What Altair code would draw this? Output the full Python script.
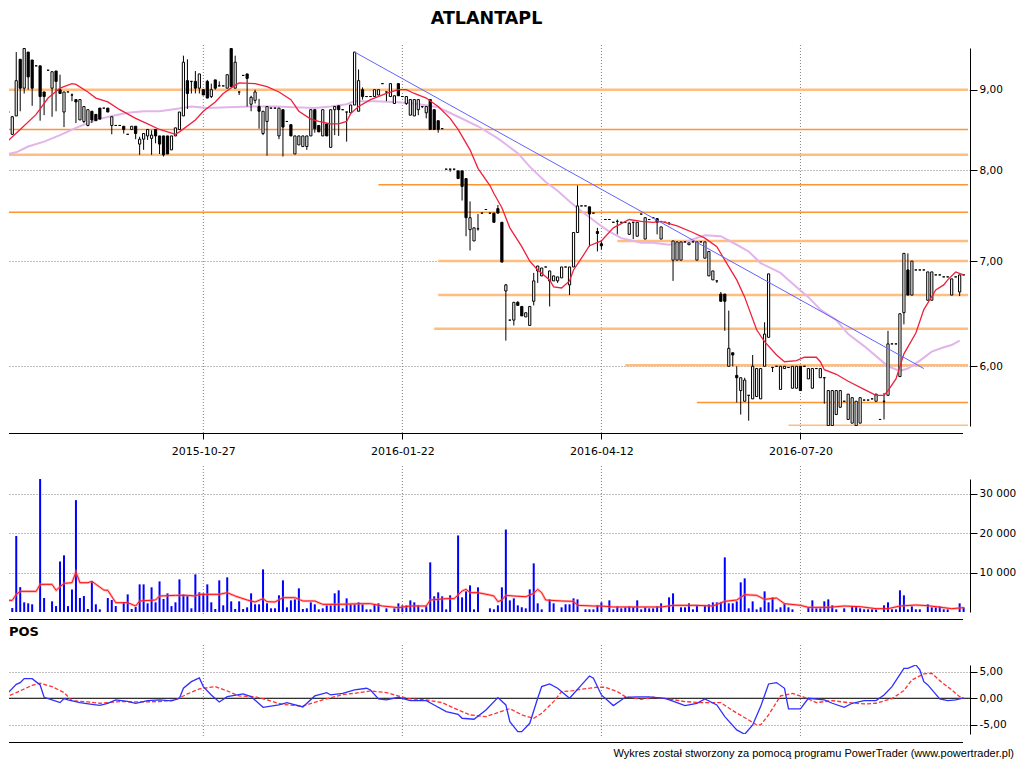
import altair as alt
import pandas as pd

# ---------------- data ----------------
opens = [
8.62,8.71,8.43,8.66,9.41,9.02,9.51,9.40,9.32,9.32,
8.97,9.26,9.02,9.25,9.00,8.71,8.97,8.93,8.87,8.61,
8.59,8.54,8.72,8.68,8.76,8.76,8.76,8.54,8.54,8.54,
8.53,8.43,8.49,8.53,8.31,8.37,8.41,8.38,8.49,8.41,
8.41,8.41,8.24,8.41,8.49,8.66,9.12,9.11,9.11,9.02,
9.00,9.11,8.91,9.13,9.05,9.05,9.02,9.56,9.02,8.97,
9.19,9.21,8.81,8.86,8.78,8.44,8.59,8.76,8.76,8.41,
8.74,8.59,8.55,8.19,8.30,8.28,8.28,8.41,8.74,8.54,
8.41,8.56,8.27,8.74,8.79,8.74,8.71,8.70,8.80,8.72,
9.00,8.91,8.91,8.91,8.93,9.08,8.97,8.91,8.82,9.08,
8.91,8.82,8.67,8.66,8.74,8.78,8.70,8.87,8.74,8.60,
8.50,8.01,8.01,8.01,7.99,7.99,7.90,7.33,7.21,7.34,
7.51,7.55,7.51,7.51,7.56,7.41,6.70,6.42,6.42,6.59,
6.55,6.45,6.37,6.60,6.90,6.85,6.94,6.80,6.80,6.80,
6.83,6.94,6.76,6.94,7.30,7.59,7.59,7.58,7.51,7.31,
7.18,7.44,7.44,7.41,7.42,7.41,7.41,7.28,7.41,7.26,
7.50,7.23,7.44,7.46,7.45,7.23,7.41,7.40,7.01,7.01,
7.01,7.20,7.17,7.20,7.01,7.20,7.03,6.85,6.81,6.80,
6.67,6.67,6.00,6.12,5.92,5.79,5.70,5.75,5.72,5.74,
5.72,6.00,6.26,5.99,6.00,5.80,5.98,5.99,5.81,5.81,
6.00,6.00,5.89,5.81,5.98,5.90,5.90,5.50,5.50,5.59,
5.65,5.70,5.55,5.52,5.50,5.52,5.71,5.71,5.72,5.70,
5.55,5.70,5.75,6.20,6.20,5.91,6.49,6.91,6.66,6.91,
6.91,6.91,6.61,6.61,6.86,6.86,6.84,6.84,6.66,6.84,
6.69,6.86]
highs = [
8.63,8.71,8.66,9.51,9.41,9.56,9.51,9.40,9.32,9.32,
8.97,9.26,9.24,9.25,9.20,8.97,8.97,8.95,8.87,8.87,
8.78,8.74,8.72,8.68,8.76,8.76,8.76,8.65,8.54,8.54,
8.53,8.43,8.53,8.53,8.40,8.44,8.49,8.48,8.49,8.41,
8.41,8.41,8.41,8.51,8.71,9.46,9.41,9.11,9.25,9.21,
9.00,9.13,9.08,9.13,9.11,9.05,9.20,9.56,9.46,8.97,
9.19,9.21,8.92,9.00,8.88,8.72,8.78,8.76,8.76,8.76,
8.74,8.59,8.55,8.41,8.41,8.41,8.41,8.74,8.74,8.54,
8.74,8.56,8.74,8.78,8.79,8.74,8.71,8.80,9.51,9.27,
9.03,8.91,8.91,9.00,9.00,9.08,8.97,9.08,8.92,9.08,
8.91,8.91,8.87,8.87,8.87,8.78,8.78,8.87,8.74,8.60,
8.50,8.01,8.01,8.01,7.99,7.99,7.90,7.64,7.35,7.50,
7.51,7.55,7.51,7.51,7.60,7.41,6.77,6.42,6.59,6.60,
6.55,6.49,6.55,6.88,6.95,6.93,6.94,6.90,6.85,6.84,
6.94,6.94,6.94,7.30,7.82,7.59,7.59,7.58,7.51,7.35,
7.22,7.44,7.44,7.41,7.44,7.41,7.41,7.41,7.41,7.41,
7.50,7.46,7.44,7.46,7.45,7.36,7.41,7.41,7.21,7.20,
7.20,7.20,7.19,7.20,7.20,7.20,7.20,7.10,6.90,6.80,
6.69,6.67,6.51,6.12,6.00,5.90,5.90,5.75,6.10,5.98,
5.98,6.40,6.87,5.99,6.00,6.00,6.00,5.99,6.00,6.00,
6.00,6.00,5.98,5.98,5.98,5.98,5.90,5.79,5.79,5.79,
5.79,5.70,5.76,5.73,5.70,5.73,5.71,5.71,5.72,5.76,
5.55,5.77,6.32,6.20,6.20,6.48,7.08,7.08,7.00,6.91,
6.91,6.91,6.89,6.89,6.86,6.86,6.84,6.84,6.82,6.84,
6.86,6.86]
lows = [
8.38,8.71,8.43,8.66,8.72,8.95,9.00,8.79,9.32,8.60,
8.67,9.26,8.65,8.72,8.95,8.52,8.97,8.85,8.57,8.61,
8.57,8.53,8.57,8.60,8.62,8.76,8.71,8.43,8.54,8.54,
8.44,8.43,8.49,8.37,8.18,8.24,8.36,8.18,8.32,8.19,
8.16,8.19,8.24,8.41,8.49,8.66,8.75,8.95,8.95,8.95,
8.93,8.89,8.89,9.00,9.05,9.05,9.02,9.04,9.02,8.93,
9.19,8.78,8.72,8.82,8.50,8.42,8.17,8.76,8.76,8.37,
8.16,8.59,8.41,8.19,8.30,8.28,8.24,8.41,8.45,8.46,
8.41,8.41,8.27,8.42,8.41,8.74,8.34,8.70,8.80,8.72,
8.87,8.91,8.91,8.91,8.93,9.08,8.85,8.91,8.82,8.92,
8.91,8.80,8.67,8.66,8.67,8.76,8.63,8.49,8.49,8.45,
8.50,8.01,7.98,8.01,7.90,7.65,7.26,7.11,7.21,7.32,
7.51,7.55,7.51,7.41,7.51,6.99,6.23,6.42,6.37,6.56,
6.46,6.45,6.37,6.56,6.78,6.85,6.94,6.55,6.80,6.78,
6.83,6.94,6.66,6.94,7.30,7.59,7.59,7.15,7.51,7.10,
7.12,7.44,7.44,7.41,7.28,7.41,7.41,7.28,7.23,7.26,
7.50,7.23,7.44,7.46,7.28,7.23,7.41,7.38,6.80,7.01,
7.01,7.20,7.17,7.20,7.01,7.20,7.03,6.85,6.81,6.78,
6.60,6.32,6.00,6.00,5.69,5.59,5.70,5.54,5.72,5.74,
5.72,6.00,6.26,5.95,6.00,5.80,5.98,5.99,5.81,5.81,
5.79,6.00,5.89,5.81,5.98,5.90,5.68,5.50,5.49,5.59,
5.65,5.70,5.55,5.52,5.50,5.52,5.71,5.71,5.72,5.70,
5.55,5.55,5.75,6.20,6.20,5.91,6.38,6.66,6.66,6.91,
6.91,6.91,6.61,6.61,6.86,6.86,6.84,6.84,6.66,6.84,
6.65,6.86]
closes = [
8.40,8.71,8.65,9.12,9.02,9.56,9.17,9.02,9.32,8.91,
8.91,9.26,9.24,9.11,8.95,8.97,8.97,8.93,8.84,8.87,
8.78,8.74,8.61,8.60,8.62,8.76,8.71,8.65,8.54,8.54,
8.49,8.43,8.53,8.44,8.37,8.44,8.49,8.42,8.41,8.31,
8.18,8.19,8.41,8.51,8.71,9.37,8.95,9.11,9.02,9.21,
8.93,8.89,9.00,9.02,9.05,9.05,9.20,9.04,9.37,8.97,
9.19,9.15,8.90,8.97,8.72,8.72,8.78,8.76,8.76,8.76,
8.52,8.59,8.41,8.41,8.41,8.41,8.41,8.74,8.50,8.46,
8.74,8.41,8.74,8.78,8.74,8.74,8.71,8.80,9.51,9.12,
8.91,8.91,8.91,9.00,9.00,9.08,8.97,9.08,8.92,8.92,
8.91,8.91,8.87,8.87,8.87,8.78,8.78,8.49,8.49,8.49,
8.50,8.01,8.01,8.01,7.90,7.81,7.46,7.46,7.35,7.34,
7.51,7.55,7.51,7.41,7.51,6.99,6.76,6.42,6.59,6.56,
6.46,6.49,6.55,6.80,6.95,6.93,6.94,6.90,6.85,6.84,
6.94,6.94,6.94,7.30,7.59,7.59,7.59,7.50,7.51,7.29,
7.16,7.44,7.44,7.41,7.42,7.41,7.41,7.40,7.41,7.41,
7.50,7.46,7.44,7.46,7.41,7.36,7.41,7.40,7.21,7.20,
7.20,7.20,7.19,7.20,7.20,7.20,7.20,7.10,6.90,6.80,
6.60,6.60,6.16,6.10,5.90,5.90,5.88,5.75,6.00,5.98,
5.98,6.29,6.87,5.99,6.00,6.00,6.00,5.99,6.00,6.00,
5.79,6.00,5.98,5.98,5.98,5.98,5.90,5.79,5.79,5.79,
5.79,5.70,5.76,5.73,5.70,5.73,5.71,5.71,5.72,5.76,
5.55,5.70,6.20,6.20,6.20,6.48,7.08,6.66,7.00,6.91,
6.91,6.91,6.89,6.89,6.86,6.86,6.84,6.84,6.82,6.84,
6.86,6.86]
volumes = [
9100,0,1000,19250,6300,2450,2200,1950,0,34200,
3550,0,2700,1500,12800,14350,1500,5700,28350,3550,
4050,760,7750,1950,680,0,3550,3040,1500,0,
2530,4470,760,1270,7000,7000,2200,6250,2450,7750,
3300,4730,1500,2450,8270,4470,4050,930,9540,4980,
4730,7000,2450,760,8020,1690,8780,2700,760,2700,
760,1180,4730,1950,1950,10800,2200,930,930,4220,
8020,1180,2950,3200,6000,760,930,2450,1950,680,
930,1690,1690,4730,5490,930,3460,1950,1950,2450,
1950,680,680,1950,2200,0,930,0,930,2200,
1690,1690,2950,2450,1690,680,1500,12580,3970,4980,
3970,680,4220,0,19400,3710,5230,6750,680,6250,
0,0,930,680,1690,6250,20900,2950,3460,1690,
1180,930,5740,12320,2200,680,0,3200,2200,0,
1180,1950,1950,3460,3200,0,680,680,680,1690,
2450,0,2950,680,1430,930,1180,1430,1180,2950,
680,1180,930,930,1430,2200,0,3710,4730,0,
1180,1180,2200,680,1690,0,1690,1950,2450,2450,
2450,13840,2200,2200,2700,7510,8520,930,2700,680,
1180,5230,2450,3710,680,1180,2200,1180,680,0,
0,0,1180,2950,930,930,2700,3200,1690,680,
0,930,0,1430,1430,930,680,680,680,680,
0,1690,2450,680,680,5490,4220,680,1430,680,
680,0,1950,1180,1180,1430,680,680,0,0,
2200,1180]

ma_fast_idx = [0,4,8,11,14,17,18,21,23,26,29,33,36,39,43,44,48,50,53,55,58,59,63,66,69,72,74,77,79,82,
               84,86,87,89,92,96,99,101,103,106,109,112,114,117,119,122,123,125,127,130,132,134,137,138,140,
               142,143,145,147,150,153,157,160,163,165,169,173,176,179,181,184,186,189,191,194,196,199,201,
               204,205,206,209,212,216,219,221,222,224,226,229,231,234,236,237,239,241]
ma_fast_val = [8.31,8.49,8.68,8.89,9.02,9.08,9.07,8.97,8.89,8.84,8.74,8.63,8.56,8.49,8.43,8.46,8.61,8.72,8.84,8.95,
               9.06,9.09,9.08,9.04,8.97,8.87,8.72,8.62,8.59,8.56,8.56,8.59,8.69,8.78,8.87,8.95,9.00,9.00,8.95,8.89,
               8.78,8.63,8.49,8.24,8.02,7.82,7.73,7.57,7.35,7.15,7.00,6.91,6.81,6.74,6.73,6.80,6.91,7.03,7.16,7.21,
               7.35,7.44,7.42,7.41,7.42,7.37,7.30,7.24,7.15,7.01,6.81,6.64,6.33,6.22,6.10,6.04,6.05,6.08,6.08,6.04,
               5.97,5.93,5.87,5.80,5.75,5.75,5.79,5.89,6.11,6.30,6.52,6.71,6.76,6.81,6.89,6.86]
ma_slow_idx = [0,3,6,10,14,18,23,27,31,35,39,43,47,51,56,62,68,73,78,82,86,88,93,98,103,109,114,119,124,129,
               132,136,139,142,145,149,152,155,160,163,167,171,176,180,184,187,190,195,199,202,205,209,212,216,
               219,222,225,227,230,233,236,238,240]
ma_slow_val = [8.18,8.21,8.28,8.34,8.42,8.51,8.61,8.66,8.70,8.72,8.72,8.75,8.78,8.76,8.77,8.78,8.78,8.77,8.76,8.78,
               8.81,8.85,8.85,8.84,8.82,8.77,8.65,8.53,8.38,8.20,8.04,7.86,7.76,7.64,7.53,7.40,7.31,7.24,7.19,7.19,
               7.17,7.20,7.27,7.26,7.17,7.10,6.98,6.88,6.74,6.64,6.52,6.42,6.29,6.18,6.09,6.00,5.96,5.98,6.05,6.13,
               6.17,6.19,6.23]

trend_idx = [88, 231]
trend_val = [9.51, 5.98]

levels_dark = [8.49, 7.83, 7.52, 5.69]
levels_dark_start = [0, 94, 0, 174]
levels_light = [9.00, 8.18, 7.21, 7.00, 6.66, 6.34, 6.01, 5.50]
levels_light_start = [0, 0, 154, 109, 109, 108, 156, 197]
levels_end = 242.1

vma_idx = [0,2,3,4,8,9,12,13,15,17,18,19,21,22,25,26,28,31,33,34,38,39,43,46,48,49,54,56,58,61,
           63,65,66,68,70,73,75,78,80,84,90,92,95,99,102,106,107,111,113,115,116,117,119,122,123,124,125,126,
           128,131,133,134,135,136,140,143,144,148,150,153,162,165,168,174,178,181,184,186,189,191,194,196,
           200,202,207,211,215,219,222,225,229,232,236,238,241]
vma_val = [2950,2950,4470,5230,5230,7000,7000,5490,7260,7430,10130,7430,7430,7770,5570,5490,2360,2360,1520,2790,
           3040,4050,4220,4220,4050,4470,4470,4900,4050,3040,2530,3380,2620,2530,3630,3630,2790,2790,1940,1940,
           2110,2110,1520,1100,1520,1520,3040,3380,3380,5320,5740,4900,4900,4300,4050,2620,3040,4220,4050,3880,
           4730,5740,4900,3040,2790,2700,1690,1520,1520,1270,1270,1270,1690,1690,1520,2700,3040,4390,4220,3210,
           3550,2110,1690,1180,1180,1520,1350,840,840,1520,1770,1600,1100,840,1100]

pos_idx = [1,3,4,5,7,9,10,12,14,15,16,19,22,24,26,28,31,33,36,39,42,44,45,47,49,50,52,54,56,60,
           62,65,69,71,75,78,81,82,85,88,91,92,94,96,99,102,106,108,111,114,115,118,121,124,126,127,129,130,
           132,134,135,137,139,142,145,147,148,150,153,156,159,162,166,169,171,174,176,179,181,184,186,188,
           190,192,194,196,197,200,202,206,208,211,213,216,219,221,223,226,227,229,230,231,232,235,237,239,241]
pos_val = [1.07,2.64,2.96,3.71,3.71,2.52,0.19,-0.31,-0.82,-0.06,-0.31,-0.82,-1.13,-1.32,-0.94,-0.31,-0.57,-0.94,
           -0.44,-0.31,-0.50,0.0,1.89,3.14,3.84,2.20,0.63,-0.69,0.31,0.82,0.31,-1.70,-1.26,-0.82,-1.64,0.44,1.07,
           0.63,0.94,1.57,1.89,1.57,-0.13,-0.31,0.19,-0.44,-0.44,-1.26,-2.52,-3.02,-3.77,-3.96,-2.20,0.13,-1.26,
           -4.40,-6.29,-6.29,-4.72,0.0,2.20,2.70,1.89,0.0,2.52,4.21,3.77,0.63,-1.38,0.19,0.25,0.25,0.0,-0.82,
           -1.38,-0.94,-0.13,-1.26,-3.46,-5.97,-6.79,-5.03,-1.57,2.70,2.96,1.89,-2.01,-2.01,0.0,-0.31,-0.94,
           -1.70,-0.94,-0.44,-0.44,0.63,2.20,5.66,5.66,6.29,5.35,3.14,2.52,-0.13,-0.44,-0.31,0.06]
sig_idx = [0,3,7,9,12,15,17,21,24,29,34,39,43,46,49,53,56,59,63,66,70,75,80,85,88,92,96,99,102,106,
           110,114,117,121,124,127,130,133,135,138,140,143,145,149,151,154,156,160,163,167,171,175,180,183,
           187,189,190,192,195,198,201,204,208,212,216,219,223,226,228,231,233,235,238,240,241]
sig_val = [0.13,1.07,2.45,2.83,2.20,1.07,-0.44,-0.69,-0.94,-0.63,-0.69,-0.63,-0.31,0.82,1.76,2.20,1.38,0.44,0.31,
           -0.31,-1.19,-1.45,-0.31,0.69,0.94,1.38,1.07,0.44,-0.13,-0.31,-0.82,-2.20,-3.14,-3.46,-2.70,-1.95,-3.14,
           -3.77,-2.83,-0.63,1.26,1.45,1.70,2.08,2.08,1.26,0.31,-0.19,0.19,-0.13,-0.63,-0.82,-0.82,-2.33,-4.09,
           -5.03,-5.03,-3.14,0.44,0.94,0.19,-0.82,-0.44,-0.82,-1.07,-0.94,-0.06,1.45,3.46,4.59,4.72,3.33,1.57,
           0.31,-0.06]

tick_idx = [50, 100, 150, 200]
tick_labels = ["2015-10-27", "2016-01-22", "2016-04-12", "2016-07-20"]
price_ticks = [6, 7, 8, 9]
vol_ticks = [10000, 20000, 30000]
pos_ticks = [-5, 0, 5]
title_text = ["ATLANTAPL"]
pos_label = ["POS"]
footer_text = ["Wykres został stworzony za pomocą programu PowerTrader (www.powertrader.pl)"]

# ---------------- frames ----------------
N = len(opens)
candles = pd.DataFrame({"i": list(range(N)), "o": opens, "h": highs, "l": lows, "c": closes})
vol_df = pd.DataFrame({"i": list(range(N)), "v": volumes})
ma_fast_df = pd.DataFrame({"i": ma_fast_idx, "v": ma_fast_val})
ma_slow_df = pd.DataFrame({"i": ma_slow_idx, "v": ma_slow_val})
trend_df = pd.DataFrame({"i": trend_idx, "v": trend_val})
lev_dark_df = pd.DataFrame({"s": levels_dark_start, "e": [levels_end] * len(levels_dark), "v": levels_dark})
lev_light_df = pd.DataFrame({"s": levels_light_start, "e": [levels_end] * len(levels_light), "v": levels_light})
vma_df = pd.DataFrame({"i": vma_idx, "v": vma_val})
pos_df = pd.DataFrame({"i": pos_idx, "v": pos_val})
sig_df = pd.DataFrame({"i": sig_idx, "v": sig_val})
ticks_df = pd.DataFrame({"i": tick_idx})
zero_df = pd.DataFrame({"z": [0]})
one_df = pd.DataFrame({"a": [0]})

# ---------------- layout / style ----------------
W = 961
H_PRICE = 378
H_VOL = 133
H_POS = 69
FONT = "DejaVu Sans"
GRID = "#808080"

xs = alt.Scale(domain=[1.181, 242.6], nice=False, zero=False, padding=0)
ys_p = alt.Scale(type="log", domain=[5.497, 9.567], nice=False, padding=0)
ys_v = alt.Scale(domain=[0, 33700], nice=False, padding=0)
ys_o = alt.Scale(domain=[-6.74, 6.28], nice=False, padding=0)


def X(f, axis=None):
    return alt.X(f"{f}:Q", scale=xs, axis=axis, title=None)


def Y(f, scale, axis=None):
    return alt.Y(f"{f}:Q", scale=scale, axis=axis, title=None)


def right_axis(values, expr):
    return alt.Axis(orient="right", values=values, labelExpr=expr, grid=True, gridColor=GRID,
                    gridDash=[1, 2], gridWidth=1, domainColor="black", tickColor="black", tickSize=7,
                    labelPadding=2, labelFont=FONT, labelFontSize=10.5, labelColor="black",
                    labelFlush=False, labelOverlap=False, title=None)


lbl_expr = " : ".join(f"datum.value == {v} ? '{s}'" for v, s in zip(tick_idx, tick_labels)) + " : ''"
x_axis_price = alt.Axis(orient="bottom", values=tick_idx, labelExpr=lbl_expr, offset=7, tickSize=6,
                        domain=False, grid=False, labelPadding=6, labelFont=FONT, labelFontSize=11,
                        labelColor="black", tickColor="black", labelFlush=False, labelOverlap=False,
                        title=None)
price_axis = right_axis(price_ticks, "replace(format(datum.value, '.2f'), '.', ',')")
vol_axis = right_axis(vol_ticks, "replace(format(datum.value, ','), ',', ' ')")
pos_axis = right_axis(pos_ticks, "(datum.value < 0 ? '-' : '') + replace(format(abs(datum.value), '.2f'), '.', ',')")


def vgrid(top, bottom):
    return alt.Chart(ticks_df).mark_rule(color=GRID, strokeDash=[1, 2], strokeWidth=1).encode(
        x=X("i"), y=alt.value(top), y2=alt.value(bottom))


def baseline(h):
    return alt.Chart(one_df).mark_rule(color="black", strokeWidth=1).encode(
        x=alt.value(0), x2=alt.value(954), y=alt.value(h))


# ---------------- price panel ----------------
top_anchor = alt.Chart(one_df).mark_rule(color="white", strokeOpacity=0, strokeWidth=1).encode(
    x=alt.value(10), y=alt.value(-39.5), y2=alt.value(-30))
lev_light_l = alt.Chart(lev_light_df).mark_rule(color="#FFBE80", strokeWidth=2.5, clip=True).encode(
    x=X("s"), x2="e:Q", y=Y("v", ys_p))
lev_dark_l = alt.Chart(lev_dark_df).mark_rule(color="#FF9433", strokeWidth=1.6, clip=True).encode(
    x=X("s"), x2="e:Q", y=Y("v", ys_p))
slow_l = alt.Chart(ma_slow_df).mark_line(color="#E2B4EA", strokeWidth=2, clip=True).encode(
    x=X("i"), y=Y("v", ys_p))
wick_l = alt.Chart(candles).mark_rule(color="black", strokeWidth=1, clip=True).encode(
    x=X("i", x_axis_price), y=Y("l", ys_p, price_axis), y2="h:Q")
body_l = alt.Chart(candles).mark_bar(size=2.2, stroke="black", strokeWidth=1, clip=True).encode(
    x=X("i"), y=Y("o", ys_p), y2="c:Q",
    fill=alt.condition("datum.c < datum.o", alt.value("black"), alt.value("white")))
fast_l = alt.Chart(ma_fast_df).mark_line(color="#F0203C", strokeWidth=1.3, clip=True).encode(
    x=X("i"), y=Y("v", ys_p))
trend_l = alt.Chart(trend_df).mark_line(color="#6262FF", strokeWidth=1, clip=True).encode(
    x=X("i"), y=Y("v", ys_p))
title_l = alt.Chart(pd.DataFrame({"t": title_text})).mark_text(
    font=FONT, fontSize=17.5, fontWeight="bold", align="center", baseline="alphabetic", color="black").encode(
    text="t:N", x=alt.value(477.5), y=alt.value(-24.5))

price = alt.layer(top_anchor, vgrid(-3, H_PRICE + 7), lev_light_l, lev_dark_l, slow_l, wick_l, body_l,
                  fast_l, trend_l, title_l, baseline(H_PRICE + 7.5)).resolve_axis(
    x="independent", y="independent").properties(width=W, height=H_PRICE)

# ---------------- volume panel ----------------
vbar_l = alt.Chart(vol_df).mark_bar(size=2, color="#0000FF", clip=True).encode(
    x=X("i"), y=Y("v", ys_v, vol_axis))
vma_halo = alt.Chart(vma_df).mark_line(color="#FF7070", strokeWidth=2.6, opacity=0.5, clip=True).encode(
    x=X("i"), y=Y("v", ys_v))
vma_core = alt.Chart(vma_df).mark_line(color="#FF1010", strokeWidth=1, clip=True).encode(
    x=X("i"), y=Y("v", ys_v))
volume = alt.layer(vgrid(-13, H_VOL + 4), vbar_l, vma_halo, vma_core,
                   baseline(H_VOL + 7.5)).resolve_axis(x="independent", y="independent").properties(
    width=W, height=H_VOL)

# ---------------- POS panel ----------------
zero_l = alt.Chart(zero_df).mark_rule(color="black", strokeWidth=1).encode(
    y=Y("z", ys_o, pos_axis), x=alt.value(0), x2=alt.value(W))
sig_l = alt.Chart(sig_df).mark_line(color="#FF3333", strokeWidth=1.3, strokeDash=[4, 2], clip=True).encode(
    x=X("i"), y=Y("v", ys_o))
pos_l = alt.Chart(pos_df).mark_line(color="#2F2FFF", strokeWidth=1.3, clip=True).encode(
    x=X("i"), y=Y("v", ys_o))
pos_lbl = alt.Chart(pd.DataFrame({"t": pos_label})).mark_text(
    font=FONT, fontSize=13, fontWeight="bold", align="left", baseline="middle", color="black").encode(
    text="t:N", x=alt.value(0), y=alt.value(-33))
footer = alt.Chart(pd.DataFrame({"t": footer_text})).mark_text(
    font="Liberation Sans", fontSize=11, align="right", baseline="alphabetic", color="black").encode(
    text="t:N", x=alt.value(1005), y=alt.value(92))
posp = alt.layer(vgrid(-20, H_POS + 4), zero_l, sig_l, pos_l, pos_lbl, footer,
                 baseline(H_POS + 8.5)).resolve_axis(x="independent", y="independent").properties(
    width=W, height=H_POS)

chart = alt.vconcat(price, volume, posp, spacing=53, bounds="flush").properties(
    padding={"left": 0, "top": 0, "right": 0, "bottom": 0}
).configure_view(stroke=None)

chart.save("out.html", embed_options={"renderer": "svg", "actions": False})
